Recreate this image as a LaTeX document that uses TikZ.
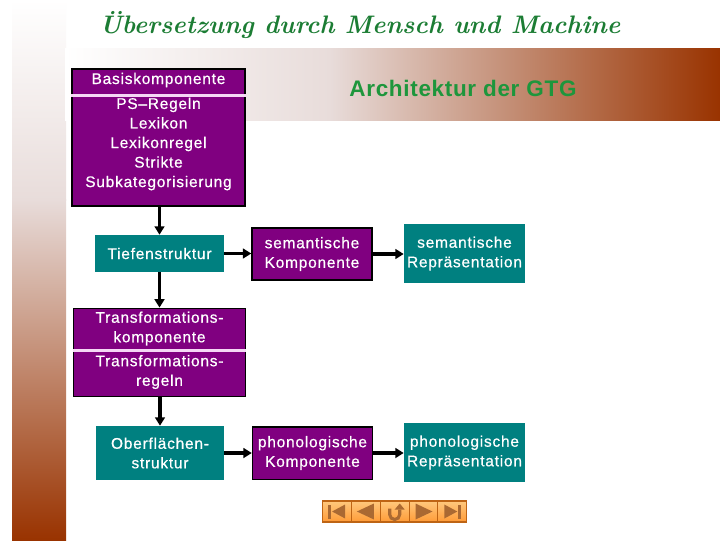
\documentclass[tikz,border=0pt]{standalone}
\usepackage{fontspec}
\newfontfamily\boxfont[LetterSpace=5,FakeBold=0.6]{Liberation Sans}
\newfontfamily\headfont[LetterSpace=3]{Liberation Sans}
\usetikzlibrary{arrows.meta}

\definecolor{gtgpurple}{RGB}{128,0,128}
\definecolor{gtgteal}{RGB}{0,128,128}
\definecolor{gtgbrown}{RGB}{153,51,0}
\definecolor{gtgpale}{RGB}{232,220,218}
\definecolor{gtgmist}{RGB}{196,164,158}
\definecolor{gtgrose}{RGB}{180,120,110}
\definecolor{gtggreen}{RGB}{30,150,60}
\definecolor{gtgdarkgreen}{RGB}{28,125,52}
\definecolor{seppink}{RGB}{245,215,245}
\definecolor{navtop}{RGB}{255,200,125}
\definecolor{navbottom}{RGB}{255,155,55}
\definecolor{navedge}{RGB}{190,100,20}
\definecolor{naviconcol}{RGB}{170,105,50}

\tikzset{
  boxtext/.style={text=white, align=center, inner sep=0pt,
    font=\boxfont\fontsize{11}{13.9}\selectfont},
  compbox/.style={boxtext, fill=gtgpurple, draw=black, line width=1pt},
  reprbox/.style={boxtext, fill=gtgteal},
  flowarrow/.style={-{Triangle[length=6pt,width=7pt]}, line width=2.6pt, black},
  sepline/.style={seppink, line width=2.5pt},
  navbutton/.style={minimum width=0.72cm, minimum height=0.525cm, inner sep=0pt,
    top color=navtop, bottom color=navbottom, draw=navedge, line width=0.8pt},
  navicon/.style={fill=naviconcol, draw=none}
}

\begin{document}
\begin{tikzpicture}[x=0.025cm, y=-0.025cm]
  \fill[white] (0,0) rectangle (720,540);
  \useasboundingbox (0,0) rectangle (720,540);
  \shade[top color=white, bottom color=gtgpale] (12,0) rectangle (66,200);
  \shade[top color=gtgpale, middle color=gtgrose, bottom color=gtgbrown] (12,199.5) rectangle (66,540);
  \shade[left color=white, right color=gtgpale] (65,48) rectangle (330,120);
  \shade[left color=gtgpale, middle color=gtgrose, right color=gtgbrown] (329.5,48) rectangle (720,120);

  \node[text=gtgdarkgreen, font=\fontsize{18}{22}\selectfont\bfseries\itshape] (title) at (360,25)
    {Übersetzung durch Mensch und Machine};
  \node[text=gtggreen, font=\headfont\fontsize{16}{18}\selectfont\bfseries] (gtg) at (463,88)
    {Architektur der GTG};

  \node[compbox, minimum width=4.325cm, minimum height=3.425cm] (basis) at (158.5,137.5) {};
  \node[boxtext] (basishead) at (158.5,80) {Basiskomponente};
  \coordinate (basissep) at (0,95.5);
  \draw[sepline] (basis.west |- basissep) -- (basis.east |- basissep);
  \node[boxtext] (basisbody) at (158.5,144)
    {PS–Regeln\\Lexikon\\Lexikonregel\\Strikte\\Subkategorisierung};

  \node[reprbox, minimum width=3.2cm, minimum height=0.925cm] (tiefe) at (159.5,253.5) {Tiefenstruktur};
  \node[compbox, minimum width=3cm, minimum height=1.3cm] (semkomp) at (312,254) {semantische\\Komponente};
  \node[reprbox, minimum width=3.025cm, minimum height=1.475cm] (semrep) at (464.5,253.5) {semantische\\Repräsentation};

  \node[compbox, minimum width=4.31cm, minimum height=2.21cm] (trans) at (159.5,352.5) {};
  \node[boxtext] (transhead) at (159.5,328.5) {Transformations-\\komponente};
  \coordinate (transsep) at (0,350.5);
  \draw[sepline] (trans.west |- transsep) -- (trans.east |- transsep);
  \node[boxtext] (transbody) at (159.5,372) {Transformations-\\regeln};

  \node[reprbox, minimum width=3.2cm, minimum height=1.35cm] (ober) at (160,453) {Oberflächen-\\struktur};
  \node[compbox, minimum width=3cm, minimum height=1.31cm] (phonkomp) at (312.5,453) {phonologische\\Komponente};
  \node[reprbox, minimum width=3.025cm, minimum height=1.48cm] (phonrep) at (464.5,452.5) {phonologische\\Repräsentation};

  \draw[flowarrow] (basis.south -| tiefe) -- (tiefe.north);
  \draw[flowarrow] (tiefe.south) -- (tiefe.south |- trans.north);
  \draw[flowarrow] (trans.south -| ober) -- (ober.north);
  \draw[flowarrow] (tiefe.east) -- (tiefe.east -| semkomp.west);
  \draw[flowarrow] (semkomp.east) -- (semkomp.east -| semrep.west);
  \draw[flowarrow] (ober.east) -- (ober.east -| phonkomp.west);
  \draw[flowarrow] (phonkomp.east) -- (phonkomp.east -| phonrep.west);

  \node[navbutton] (navfirst) at (337.1,511.5) {};
  \node[navbutton] (navprev) at (365.9,511.5) {};
  \node[navbutton] (navback) at (394.7,511.5) {};
  \node[navbutton] (navnext) at (423.5,511.5) {};
  \node[navbutton] (navlast) at (452.3,511.5) {};
  \begin{scope}[shift={(navfirst.center)}]
    \fill[navicon] (-9,-7) rectangle (-6,7);
    \fill[navicon] (-5,0) -- (8,-7) -- (8,7) -- cycle;
  \end{scope}
  \begin{scope}[shift={(navprev.center)}]
    \fill[navicon] (-9,0) -- (8,-8) -- (8,8) -- cycle;
  \end{scope}
  \begin{scope}[shift={(navback.center)}]
    \draw[naviconcol, line width=2.2pt] (-5,-3) -- (-5,3) arc[start angle=180, end angle=0, radius=5] -- (5,-2);
    \fill[navicon] (0,-2) -- (10,-2) -- (5,-8) -- cycle;
  \end{scope}
  \begin{scope}[shift={(navnext.center)}]
    \fill[navicon] (-8,-8) -- (-8,8) -- (9,0) -- cycle;
  \end{scope}
  \begin{scope}[shift={(navlast.center)}]
    \fill[navicon] (-8,-7) -- (-8,7) -- (5,0) -- cycle;
    \fill[navicon] (6,-7) rectangle (9,7);
  \end{scope}
\end{tikzpicture}
\end{document}
